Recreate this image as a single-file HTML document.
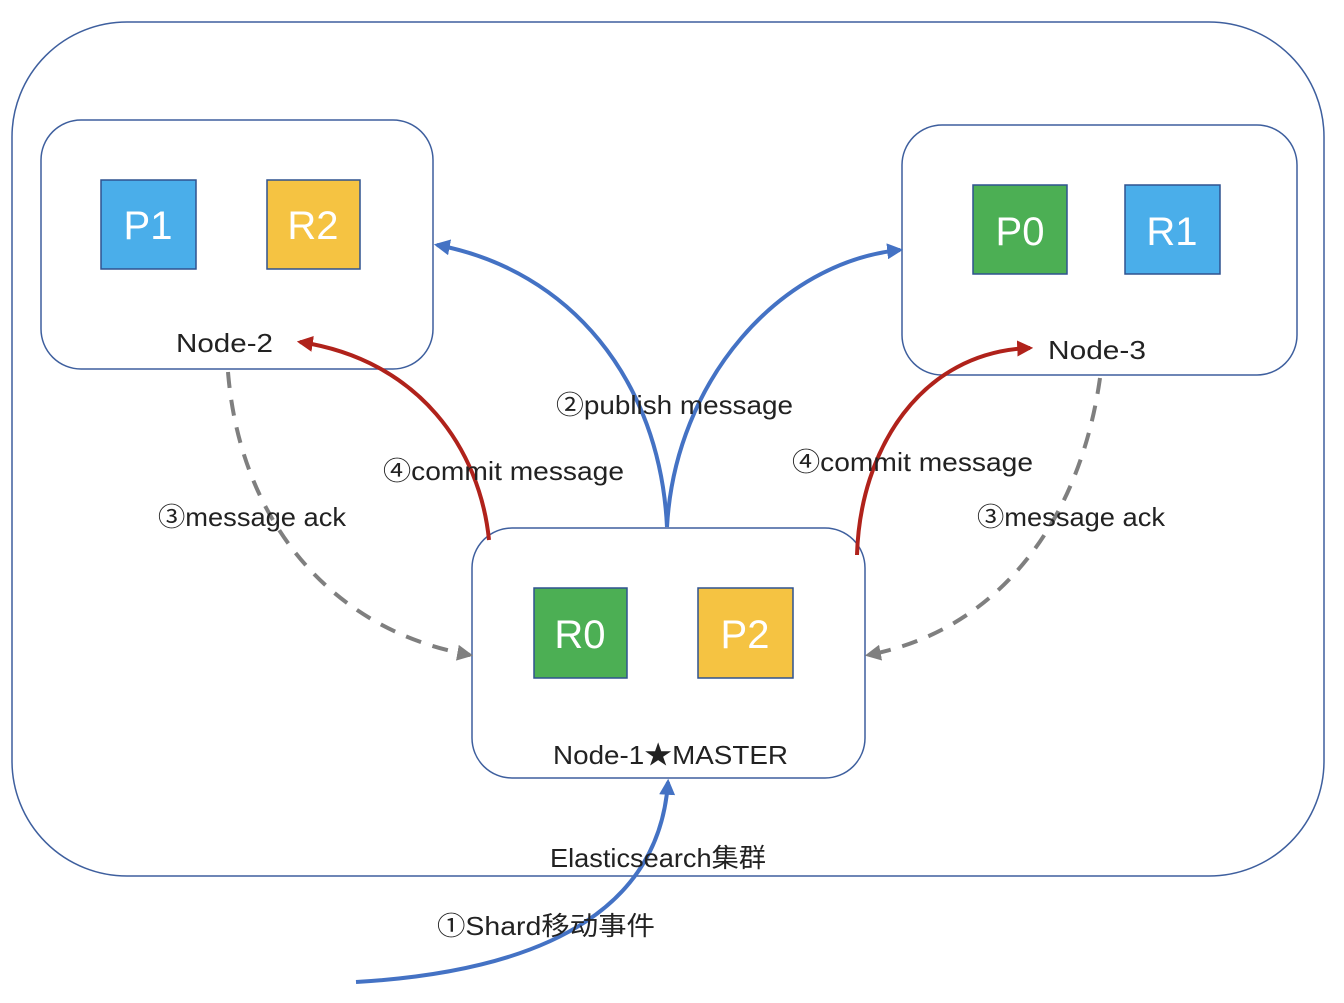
<!DOCTYPE html>
<html><head><meta charset="utf-8"><style>
html,body{margin:0;padding:0;background:#fff;}
svg text{font-family:"Liberation Sans","Noto Sans CJK SC",sans-serif;fill:#222;}
</style></head><body>
<svg width="1344" height="998" viewBox="0 0 1344 998" xmlns="http://www.w3.org/2000/svg">
<defs>
<marker id="ab2" viewBox="0 0 10 10" markerWidth="16" markerHeight="16" refX="8" refY="5" orient="auto" markerUnits="userSpaceOnUse"><path d="M0,0 L10,5 L0,10 Z" fill="#4472c4"/></marker>
<marker id="ar" viewBox="0 0 10 10" markerWidth="16" markerHeight="16" refX="8" refY="5" orient="auto" markerUnits="userSpaceOnUse"><path d="M0,0 L10,5 L0,10 Z" fill="#b0221b"/></marker>
<marker id="ag" viewBox="0 0 10 10" markerWidth="16" markerHeight="16" refX="8" refY="5" orient="auto" markerUnits="userSpaceOnUse"><path d="M0,0 L10,5 L0,10 Z" fill="#7f7f7f"/></marker>
</defs>
<rect x="12" y="22" width="1312" height="854" rx="115" fill="none" stroke="#3e5f9e" stroke-width="1.5"/>
<rect x="41" y="120" width="392" height="249" rx="40" fill="#fff" stroke="#3e5f9e" stroke-width="1.5"/>
<rect x="902" y="125" width="395" height="250" rx="40" fill="#fff" stroke="#3e5f9e" stroke-width="1.5"/>
<rect x="472" y="528" width="393" height="250" rx="40" fill="#fff" stroke="#3e5f9e" stroke-width="1.5"/>
<rect x="101" y="180" width="95" height="89" fill="#4aaeea" stroke="#2f528f" stroke-width="1.5"/>
<rect x="267" y="180" width="93" height="89" fill="#f5c342" stroke="#2f528f" stroke-width="1.5"/>
<rect x="973" y="185" width="94" height="89" fill="#4caf54" stroke="#2f528f" stroke-width="1.5"/>
<rect x="1125" y="185" width="95" height="89" fill="#4aaeea" stroke="#2f528f" stroke-width="1.5"/>
<rect x="534" y="588" width="93" height="90" fill="#4caf54" stroke="#2f528f" stroke-width="1.5"/>
<rect x="698" y="588" width="95" height="90" fill="#f5c342" stroke="#2f528f" stroke-width="1.5"/>
<g font-size="40" text-anchor="middle">
<text x="148" y="239" style="fill:#fff">P1</text>
<text x="313" y="239" style="fill:#fff">R2</text>
<text x="1020" y="245" style="fill:#fff">P0</text>
<text x="1172" y="245" style="fill:#fff">R1</text>
<text x="580" y="648" style="fill:#fff">R0</text>
<text x="745" y="648" style="fill:#fff">P2</text>
</g>
<path d="M667,527 C660,380 570,270 437,245" fill="none" stroke="#4472c4" stroke-width="4" marker-end="url(#ab2)"/>
<path d="M667,527 C675,380 780,262 900,250" fill="none" stroke="#4472c4" stroke-width="4" marker-end="url(#ab2)"/>
<path d="M489,540 C480,450 420,360 300,342" fill="none" stroke="#b0221b" stroke-width="4" marker-end="url(#ar)"/>
<path d="M857,555 C860,450 920,352 1030,348" fill="none" stroke="#b0221b" stroke-width="4" marker-end="url(#ar)"/>
<path d="M228,372 C240,520 330,630 470,655" fill="none" stroke="#7f7f7f" stroke-width="4" stroke-dasharray="16,12" marker-end="url(#ag)"/>
<path d="M1100,378 C1080,520 1000,630 868,655" fill="none" stroke="#7f7f7f" stroke-width="4" stroke-dasharray="16,12" marker-end="url(#ag)"/>
<path d="M356,982 C560,970 660,900 668,782" fill="none" stroke="#4472c4" stroke-width="4" marker-end="url(#ab2)"/>
<g font-size="26">
<text x="176" y="352" textLength="97" lengthAdjust="spacingAndGlyphs">Node-2</text>
<text x="1048" y="359" textLength="98" lengthAdjust="spacingAndGlyphs">Node-3</text>
<text x="553" y="764" textLength="235" lengthAdjust="spacingAndGlyphs">Node-1★MASTER</text>
<text x="550" y="867" textLength="216" lengthAdjust="spacingAndGlyphs">Elasticsearch集群</text>
<text x="556" y="414" textLength="237" lengthAdjust="spacingAndGlyphs">②publish message</text>
<text x="383" y="480" textLength="241" lengthAdjust="spacingAndGlyphs">④commit message</text>
<text x="792" y="471" textLength="241" lengthAdjust="spacingAndGlyphs">④commit message</text>
<text x="158" y="526" textLength="188" lengthAdjust="spacingAndGlyphs">③message ack</text>
<text x="977" y="526" textLength="188" lengthAdjust="spacingAndGlyphs">③message ack</text>
<text x="437" y="935" textLength="218" lengthAdjust="spacingAndGlyphs">①Shard移动事件</text>
</g>
</svg>
</body></html>
